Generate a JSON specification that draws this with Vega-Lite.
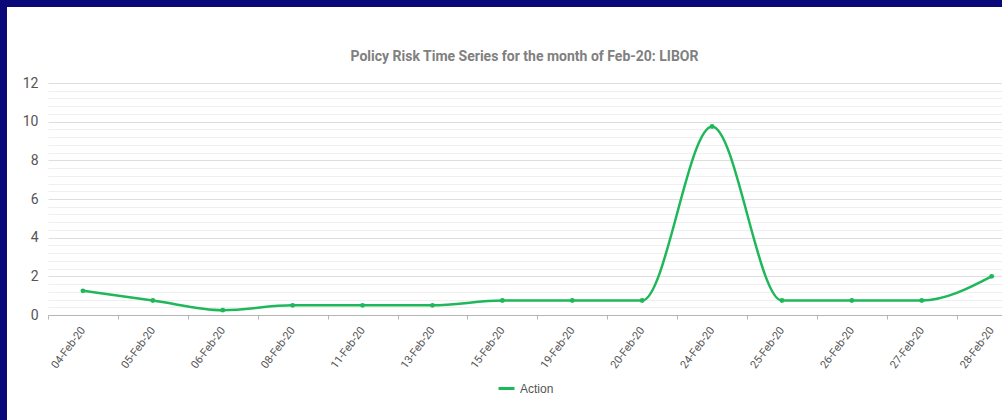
{
  "$schema": "https://vega.github.io/schema/vega-lite/v6.json",
  "autosize": {"type": "none"},
  "width": 995,
  "height": 413,
  "padding": {"left": 7, "top": 7, "right": 0, "bottom": 0},
  "background": "#0b0879",
  "config": {
    "view": {"fill": "#ffffff", "stroke": null},
    "font": "Roboto"
  },
  "title": {
    "text": "Policy Risk Time Series for the month of Feb-20: LIBOR",
    "anchor": "middle",
    "frame": "group",
    "offset": -64,
    "dx": 20,
    "baseline": "middle",
    "font": "Roboto",
    "fontSize": 14,
    "fontWeight": "bold",
    "color": "#808080"
  },
  "data": {
    "values": [
      {"date": "04-Feb-20", "value": 1.25, "series": "Action"},
      {"date": "05-Feb-20", "value": 0.75, "series": "Action"},
      {"date": "06-Feb-20", "value": 0.25, "series": "Action"},
      {"date": "08-Feb-20", "value": 0.5, "series": "Action"},
      {"date": "11-Feb-20", "value": 0.5, "series": "Action"},
      {"date": "13-Feb-20", "value": 0.5, "series": "Action"},
      {"date": "15-Feb-20", "value": 0.75, "series": "Action"},
      {"date": "19-Feb-20", "value": 0.75, "series": "Action"},
      {"date": "20-Feb-20", "value": 0.75, "series": "Action"},
      {"date": "24-Feb-20", "value": 9.75, "series": "Action"},
      {"date": "25-Feb-20", "value": 0.75, "series": "Action"},
      {"date": "26-Feb-20", "value": 0.75, "series": "Action"},
      {"date": "27-Feb-20", "value": 0.75, "series": "Action"},
      {"date": "28-Feb-20", "value": 2, "series": "Action"}
    ]
  },
  "mark": {
    "type": "line",
    "interpolate": "monotone",
    "strokeWidth": 2.5,
    "point": {"filled": true, "size": 24}
  },
  "encoding": {
    "x": {
      "field": "date",
      "type": "ordinal",
      "sort": null,
      "scale": {"type": "band", "range": [41, 1019.6], "paddingInner": 0, "paddingOuter": 0},
      "axis": {
        "title": null,
        "orient": "bottom",
        "offset": -105,
        "domainColor": "#b5b5b5",
        "tickColor": "#b5b5b5",
        "tickBand": "extent",
        "tickSize": 4,
        "grid": false,
        "labelAngle": -53,
        "labelAlign": "right",
        "labelBaseline": "middle",
        "labelPadding": 9,
        "labelFont": "Roboto",
        "labelFontSize": 11,
        "labelColor": "#555555",
        "labelOverlap": false
      }
    },
    "y": {
      "field": "value",
      "type": "quantitative",
      "scale": {"domain": [0, 12], "range": [308, 76], "nice": false, "zero": true},
      "axis": {
        "title": null,
        "orient": "left",
        "offset": -41,
        "domain": false,
        "ticks": false,
        "values": [0, 0.4, 0.8, 1.2, 1.6, 2, 2.4, 2.8, 3.2, 3.6, 4, 4.4, 4.8, 5.2, 5.6, 6, 6.4, 6.8, 7.2, 7.6, 8, 8.4, 8.8, 9.2, 9.6, 10, 10.4, 10.8, 11.2, 11.6, 12],
        "labelExpr": "datum.value % 2 === 0 ? format(datum.value, 'd') : ''",
        "labelOverlap": false,
        "labelFlush": false,
        "labelPadding": 10,
        "labelFont": "Roboto",
        "labelFontSize": 14,
        "labelColor": "#555555",
        "grid": true,
        "gridColor": {"condition": {"test": "datum.value % 2 === 0", "value": "#dedede"}, "value": "#efefef"},
        "gridWidth": 1
      }
    },
    "color": {
      "field": "series",
      "type": "nominal",
      "scale": {"range": ["#1eb85a"]},
      "legend": {
        "title": null,
        "orient": "none",
        "legendX": 490,
        "legendY": 372,
        "direction": "horizontal",
        "symbolType": "stroke",
        "symbolSize": 256,
        "symbolStrokeWidth": 3,
        "labelFont": "Liberation Sans",
        "labelFontSize": 12,
        "labelColor": "#555555",
        "padding": 0
      }
    }
  }
}
